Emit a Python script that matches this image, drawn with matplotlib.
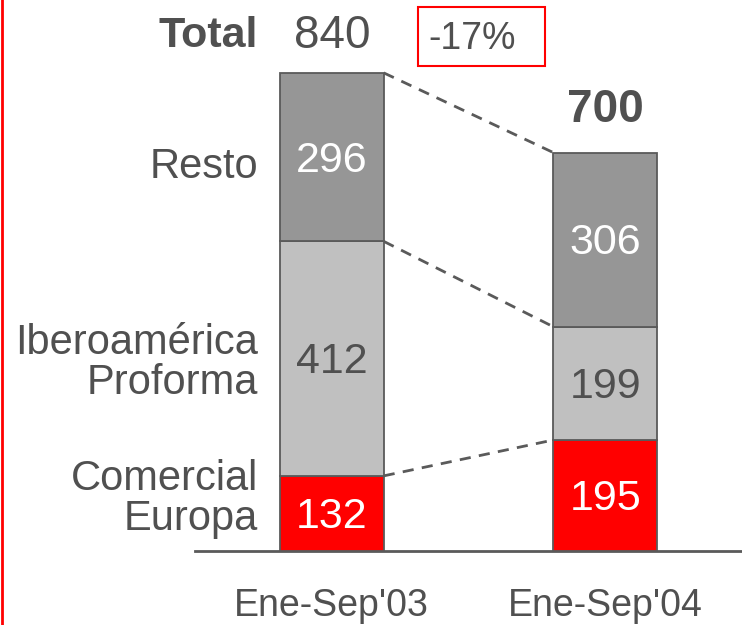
import matplotlib
matplotlib.use("Agg")
import matplotlib.pyplot as plt
from matplotlib.lines import Line2D
from matplotlib.patches import Rectangle

plt.rcParams['font.family'] = ['Liberation Sans', 'DejaVu Sans']

periods = ["Ene-Sep'03", "Ene-Sep'04"]
segments = ["Comercial\nEuropa", "Iberoamérica\nProforma", "Resto"]
comercial = [132, 195]
iberoamerica = [412, 199]
resto = [296, 306]
totals = [840, 700]
change = "-17%"

TXT = '#505050'
EDGE = '#5a5a5a'
colors = ['#ff0000', '#c0c0c0', '#969696']
text_colors = ['white', TXT, 'white']

W, H = 742, 625
fig = plt.figure(figsize=(W / 100, H / 100), dpi=100)
# axes spans from the baseline (y=551px) to the top, x from 195px to the right edge
ax = fig.add_axes([195 / W, (H - 551) / H, (W - 195) / W, 551 / H])
ymax = 968
ax.set_xlim(-0.5, 1.5)
ax.set_ylim(0, ymax)

x = [0, 1]
width = 0.38
bottom = [0, 0]
tops = []
for vals, col, tcol in zip([comercial, iberoamerica, resto], colors, text_colors):
    ax.bar(x, vals, width, bottom=bottom, color=col, edgecolor=EDGE, linewidth=1.3, zorder=3)
    for xi, v, b in zip(x, vals, bottom):
        ax.text(xi, b + v / 2 - 6, str(v), ha='center', va='center', fontsize=31,
                color=tcol, zorder=4)
    bottom = [b + v for b, v in zip(bottom, vals)]
    tops.append(list(bottom))

# dashed connectors between segment tops
for t in tops:
    ax.plot([x[0] + width / 2, x[1] - width / 2], [t[0], t[1]], ls=(0, (4, 3)),
            color=EDGE, lw=2, zorder=2, clip_on=False)

# totals
ax.text(x[0], totals[0] + 65, str(totals[0]), ha='center', va='center', fontsize=33, color=TXT)
ax.text(-0.27, totals[0] + 65, 'Total', ha='right', va='center', fontsize=31,
        fontweight='bold', color=TXT)
ax.text(x[1], totals[1] + 75, str(totals[1]), ha='center', va='center', fontsize=33,
        fontweight='bold', color=TXT)

# change box
ax.add_patch(Rectangle((0.314, 852), 0.467, 104, fill=False, edgecolor='#ff0000', lw=1.5,
                       clip_on=False))
ax.text(0.355, 899, change, ha='left', va='center', fontsize=27, color=TXT)

# segment names on the left
for name, yy in zip(segments, [92, 330, 675]):
    ax.text(-0.27, yy, name, ha='right', va='center', fontsize=30, color=TXT,
            linespacing=1.0, clip_on=False)

ax.set_xticks(x)
ax.set_xticklabels(periods, fontsize=27, color=TXT)
ax.tick_params(axis='x', length=0, pad=27)
ax.set_yticks([])
for s in ['top', 'right', 'left']:
    ax.spines[s].set_visible(False)
ax.spines['bottom'].set_color(EDGE)
ax.spines['bottom'].set_linewidth(2)

# red rule on the left edge
fig.add_artist(Line2D([1.5 / W, 1.5 / W], [0, 1], color='#ff0000', lw=2))

fig.savefig('out.png', dpi=100)
